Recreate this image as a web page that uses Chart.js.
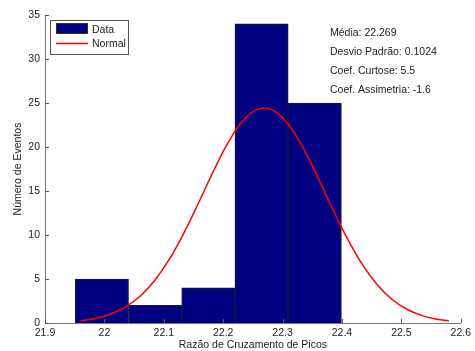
<!DOCTYPE html>
<html>
<head>
<meta charset="utf-8">
<script src="https://cdn.jsdelivr.net/npm/chart.js@4"></script>
<style>
  html, body { margin: 0; padding: 0; background: #fff; }
  #wrap { width: 475px; height: 351px; }
</style>
</head>
<body>
<div id="wrap"><canvas id="histChart" width="475" height="351"></canvas></div>
<script>
// histograma (centro das classes e contagens)
const binCenters = [21.9958, 22.0854, 22.1750, 22.2646, 22.3542];
const binCounts = [5, 2, 4, 34, 25];

// curva normal
const curveX = [21.96, 21.985, 22.01, 22.035, 22.06, 22.085, 22.11, 22.135, 22.16, 22.185,
    22.21, 22.235, 22.26, 22.285, 22.31, 22.335, 22.36, 22.385, 22.41, 22.435,
    22.46, 22.485, 22.51, 22.535, 22.56, 22.58];
const curveY = [0.26, 0.52, 1.0, 1.8, 3.04, 4.86, 7.32, 10.38, 13.86, 17.45,
    20.69, 23.12, 24.33, 24.13, 22.55, 19.85, 16.46, 12.86, 9.47, 6.57,
    4.29, 2.64, 1.53, 0.84, 0.43, 0.24];

const xTicks = [21.9, 22.0, 22.1, 22.2, 22.3, 22.4, 22.5, 22.6];
const yTicks = [0, 5, 10, 15, 20, 25, 30, 35];

const statsLines = [
    'Média: 22.269',
    'Desvio Padrão: 0.1024',
    'Coef. Curtose: 5.5',
    'Coef. Assimetria: -1.6'
];

const FONT = "'Liberation Sans', Arial, sans-serif";
const TEXT = '#222';

// ticks para dentro, estilo matlab
const innerTicks = {
    id: 'innerTicks',
    afterDraw(chart) {
        const ctx = chart.ctx;
        const xs = chart.scales.x, ys = chart.scales.y;
        const area = chart.chartArea;
        ctx.save();
        ctx.strokeStyle = '#555';
        ctx.lineWidth = 1;
        ctx.beginPath();
        xTicks.forEach(v => {
            const px = Math.round(xs.getPixelForValue(v)) + 0.5;
            ctx.moveTo(px, area.bottom);
            ctx.lineTo(px, area.bottom - 4);
        });
        yTicks.forEach(v => {
            const py = Math.round(ys.getPixelForValue(v)) + 0.5;
            ctx.moveTo(area.left, py);
            ctx.lineTo(area.left + 4, py);
        });
        ctx.stroke();
        ctx.restore();
    }
};

// legenda e texto de estatísticas
const extras = {
    id: 'extras',
    afterDraw(chart) {
        const ctx = chart.ctx;
        ctx.save();
        // caixa da legenda
        ctx.fillStyle = '#fff';
        ctx.fillRect(50, 20, 78, 34);
        ctx.strokeStyle = '#555';
        ctx.lineWidth = 1;
        ctx.strokeRect(50.5, 20.5, 78, 34);
        ctx.fillStyle = '#000080';
        ctx.fillRect(56, 23, 32, 11);
        ctx.strokeStyle = '#333';
        ctx.strokeRect(56.5, 23.5, 31, 10);
        ctx.strokeStyle = '#ff0000';
        ctx.lineWidth = 1.5;
        ctx.beginPath();
        ctx.moveTo(56, 43.5);
        ctx.lineTo(88, 43.5);
        ctx.stroke();

        ctx.fillStyle = TEXT;
        ctx.font = '10.5px ' + FONT;
        ctx.textBaseline = 'middle';
        ctx.textAlign = 'left';
        ctx.fillText('Data', 92, 30);
        ctx.fillText('Normal', 92, 44);

        statsLines.forEach((s, i) => {
            ctx.fillText(s, 330, 33 + i * 19);
        });
        ctx.restore();
    }
};

document.addEventListener('DOMContentLoaded', function () {
    const ctx = document.getElementById('histChart').getContext('2d');

    new Chart(ctx, {
        data: {
            datasets: [
                {
                    type: 'line',
                    label: 'Normal',
                    data: curveX.map((x, i) => ({ x: x, y: curveY[i] })),
                    borderColor: '#ff0000',
                    borderWidth: 1.5,
                    pointRadius: 0,
                    tension: 0.4,
                    fill: false,
                    order: 0
                },
                {
                    type: 'bar',
                    label: 'Data',
                    data: binCenters.map((x, i) => ({ x: x, y: binCounts[i] })),
                    backgroundColor: '#000080',
                    borderColor: '#1a1a2a',
                    borderWidth: 1,
                    barPercentage: 1,
                    categoryPercentage: 1,
                    order: 1
                }
            ]
        },
        options: {
            responsive: false,
            animation: false,
            layout: {
                padding: { top: 15, right: 13, left: 0, bottom: 0 }
            },
            plugins: {
                legend: { display: false },
                tooltip: { enabled: false }
            },
            scales: {
                x: {
                    type: 'linear',
                    min: 21.9,
                    max: 22.6,
                    offset: false,
                    afterBuildTicks: scale => {
                        scale.ticks = xTicks.map(v => ({ value: v }));
                    },
                    afterFit: scale => { scale.height = 28; },
                    grid: { display: false, drawTicks: false },
                    border: { display: true, color: '#777', width: 1 },
                    ticks: {
                        color: TEXT,
                        padding: 4,
                        maxRotation: 0,
                        autoSkip: false,
                        font: { size: 10.5, family: FONT },
                        callback: v => String(Number(v.toFixed(1)))
                    },
                    title: {
                        display: true,
                        text: 'Razão de Cruzamento de Picos',
                        color: TEXT,
                        padding: { top: 1, bottom: 0 },
                        font: { size: 10.5, family: FONT }
                    }
                },
                y: {
                    min: 0,
                    max: 35,
                    afterBuildTicks: scale => {
                        scale.ticks = yTicks.map(v => ({ value: v }));
                    },
                    afterFit: scale => { scale.width = 45; },
                    grid: { display: false, drawTicks: false },
                    border: { display: true, color: '#777', width: 1 },
                    ticks: {
                        color: TEXT,
                        padding: 5,
                        font: { size: 10.5, family: FONT }
                    },
                    title: {
                        display: true,
                        text: 'Número de Eventos',
                        color: TEXT,
                        padding: { top: 12, bottom: 0 },
                        font: { size: 10.5, family: FONT }
                    }
                }
            }
        },
        plugins: [innerTicks, extras]
    });
});
</script>
</body>
</html>
